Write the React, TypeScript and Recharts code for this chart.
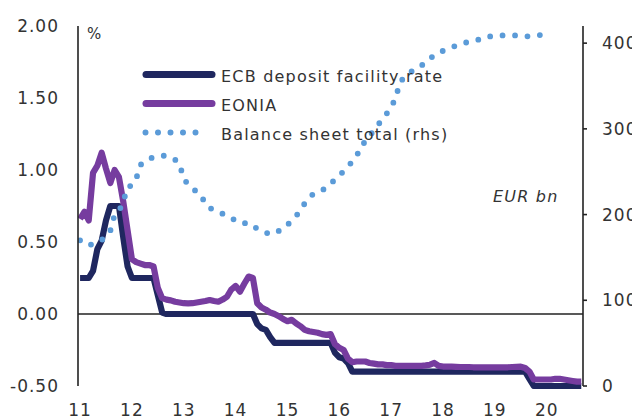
import { ComposedChart, Line, XAxis, YAxis, ReferenceLine } from "recharts";

// monthly, Jan 2011 .. Sep 2020
const ecbRate = [
  0.25, 0.25, 0.25, 0.3, 0.45, 0.51, 0.65, 0.75, 0.75, 0.75, 0.53, 0.33,
  0.25, 0.25, 0.25, 0.25, 0.25, 0.25, 0.13, 0.01, 0, 0, 0, 0,
  0, 0, 0, 0, 0, 0, 0, 0, 0, 0, 0, 0,
  0, 0, 0, 0, 0, -0.07, -0.1, -0.11, -0.16, -0.2, -0.2, -0.2,
  -0.2, -0.2, -0.2, -0.2, -0.2, -0.2, -0.2, -0.2, -0.2, -0.2, -0.2, -0.27,
  -0.3, -0.31, -0.34, -0.4, -0.4, -0.4, -0.4, -0.4, -0.4, -0.4, -0.4, -0.4,
  -0.4, -0.4, -0.4, -0.4, -0.4, -0.4, -0.4, -0.4, -0.4, -0.4, -0.4, -0.4,
  -0.4, -0.4, -0.4, -0.4, -0.4, -0.4, -0.4, -0.4, -0.4, -0.4, -0.4, -0.4,
  -0.4, -0.4, -0.4, -0.4, -0.4, -0.4, -0.4, -0.4, -0.45, -0.5, -0.5, -0.5,
  -0.5, -0.5, -0.5, -0.5, -0.5, -0.5, -0.5, -0.5, -0.5,
];

const eonia = [
  0.66, 0.71, 0.65, 0.98, 1.03, 1.12, 1.01, 0.91, 1.0, 0.95, 0.78, 0.58,
  0.38, 0.36, 0.35, 0.34, 0.34, 0.33, 0.18, 0.11, 0.1, 0.095, 0.085, 0.08,
  0.075, 0.074, 0.075, 0.08, 0.085, 0.09, 0.097, 0.09, 0.085, 0.1, 0.12, 0.17,
  0.195, 0.155, 0.21, 0.26, 0.25, 0.075, 0.045, 0.03, 0.01, 0, -0.015, -0.035,
  -0.05, -0.04, -0.065, -0.085, -0.11, -0.12, -0.125, -0.13, -0.14, -0.145, -0.14, -0.21,
  -0.235, -0.25, -0.31, -0.335, -0.33, -0.33, -0.33, -0.34, -0.345, -0.35, -0.35, -0.355,
  -0.355, -0.36, -0.36, -0.36, -0.36, -0.36, -0.36, -0.36, -0.357, -0.352, -0.34, -0.36,
  -0.365, -0.365, -0.366, -0.367, -0.368, -0.368, -0.368, -0.37, -0.37, -0.37, -0.37, -0.37,
  -0.37, -0.37, -0.37, -0.37, -0.368, -0.367, -0.366, -0.375, -0.4, -0.455, -0.455, -0.455,
  -0.455, -0.455, -0.45, -0.45, -0.455, -0.46, -0.465, -0.47, -0.47,
];

// EUR bn, Jan 2011 .. Feb 2020
const balanceSheet = [
  170, 167, 164, 166, 168, 170, 176, 181, 200, 204, 215, 232,
  234, 242, 258, 262, 265, 267, 268, 269, 268, 267, 264, 259,
  242, 235, 230, 227, 223, 212, 208, 205, 203, 201, 199, 196,
  193, 190, 190, 190, 188, 183, 181, 179, 177, 179, 181, 183,
  188, 193, 198, 206, 213, 220, 224, 226, 228, 232, 236, 241,
  245, 251, 256, 262, 268, 280, 285, 292, 298, 305, 311, 318,
  326, 335, 354, 360, 364, 368, 371, 374, 377, 382, 386, 389,
  391, 393, 395, 397, 399, 400, 402, 403, 404, 404, 406, 408,
  409, 409, 409, 409, 409, 409, 408, 408, 408, 409, 409, 410,
  411, 413,
];

const yearTicks = [2011, 2012, 2013, 2014, 2015, 2016, 2017, 2018, 2019, 2020];
const leftTicks = [-0.5, 0, 0.5, 1, 1.5, 2];
const rightTicks = [0, 100, 200, 300, 400];

const NAVY = "#1f275f";
const PURPLE = "#763c9f";
const BLUE = "#5b9bd8";
const TEXT = "#333";
const FONT = "'DejaVu Sans', Verdana, sans-serif";

const data = ecbRate.map((v, i) => ({
  t: 2011 + i / 12,
  ecb: v,
  eonia: eonia[i],
  bs: balanceSheet[i],
}));

const tickStyle = { fontSize: 17, fill: TEXT, fontFamily: FONT, letterSpacing: 1 };

function Overlay() {
  const legend = [
    { label: "ECB deposit facility rate", color: NAVY, y: 74.5, dotted: false },
    { label: "EONIA", color: PURPLE, y: 103.5, dotted: false },
    { label: "Balance sheet total (rhs)", color: BLUE, y: 132.5, dotted: true },
  ];
  return (
    <svg
      width={632}
      height={419}
      style={{ position: "absolute", left: 0, top: 0, pointerEvents: "none" }}
      fontFamily={FONT}
    >
      {legend.map((r) => (
        <g key={r.label}>
          {r.dotted ? (
            <line x1={145.5} x2={208} y1={r.y} y2={r.y} stroke={r.color} strokeWidth={6}
              strokeDasharray="0 12.5" strokeLinecap="round" />
          ) : (
            <line x1={146} x2={212} y1={r.y} y2={r.y} stroke={r.color} strokeWidth={7}
              strokeLinecap="round" />
          )}
          <text x={221} y={r.y + 7.5} fontSize={16} fill={TEXT} letterSpacing={1.2}>
            {r.label}
          </text>
        </g>
      ))}
      <text x={87} y={38.5} fontSize={15} fill={TEXT}>%</text>
      <text x={493} y={201.5} fontSize={16} fill={TEXT} fontStyle="italic" letterSpacing={1.2}>
        EUR bn
      </text>
    </svg>
  );
}

export default function App() {
  return (
    <div style={{ position: "absolute", left: 0, top: 0, width: 632, height: 419, background: "#fff" }}>
      <ComposedChart width={632} height={419} data={data} margin={{ top: 26, right: 0, bottom: 0, left: 0 }}>
        <XAxis
          dataKey="t"
          type="number"
          domain={[2010.96, 2020.7]}
          allowDataOverflow
          ticks={yearTicks}
          tickFormatter={(v: number) => String(v % 100)}
          axisLine={false}
          tickLine={false}
          tickSize={0}
          tickMargin={18}
          height={33}
          tick={tickStyle}
          interval={0}
        />
        <YAxis
          yAxisId="left"
          orientation="left"
          width={78}
          domain={[-0.5, 2]}
          ticks={leftTicks}
          tickFormatter={(v: number) => v.toFixed(2)}
          tickLine={false}
          tickSize={0}
          tickMargin={19}
          axisLine={{ stroke: "#222", strokeWidth: 1.6 }}
          tick={tickStyle}
          interval={0}
        />
        <YAxis
          yAxisId="right"
          orientation="right"
          width={49}
          domain={[0, 420]}
          ticks={rightTicks}
          tickLine={{ stroke: "#222", strokeWidth: 1.6 }}
          tickSize={4}
          tickMargin={15}
          axisLine={{ stroke: "#222", strokeWidth: 1.6 }}
          tick={{ ...tickStyle, textAnchor: "start" }}
          interval={0}
        />
        <ReferenceLine yAxisId="left" y={0} stroke="#222" strokeWidth={1.3} />
        <Line yAxisId="left" dataKey="ecb" stroke={NAVY} strokeWidth={6.2} dot={false}
          strokeLinejoin="round" isAnimationActive={false} type="linear" />
        <Line yAxisId="left" dataKey="eonia" stroke={PURPLE} strokeWidth={6.2} dot={false}
          strokeLinejoin="round" isAnimationActive={false} type="linear" />
        <Line yAxisId="right" dataKey="bs" stroke={BLUE} strokeWidth={5.8} dot={false}
          strokeDasharray="0 12.5" strokeLinecap="round" isAnimationActive={false} type="linear" />
      </ComposedChart>
      <Overlay />
    </div>
  );
}
